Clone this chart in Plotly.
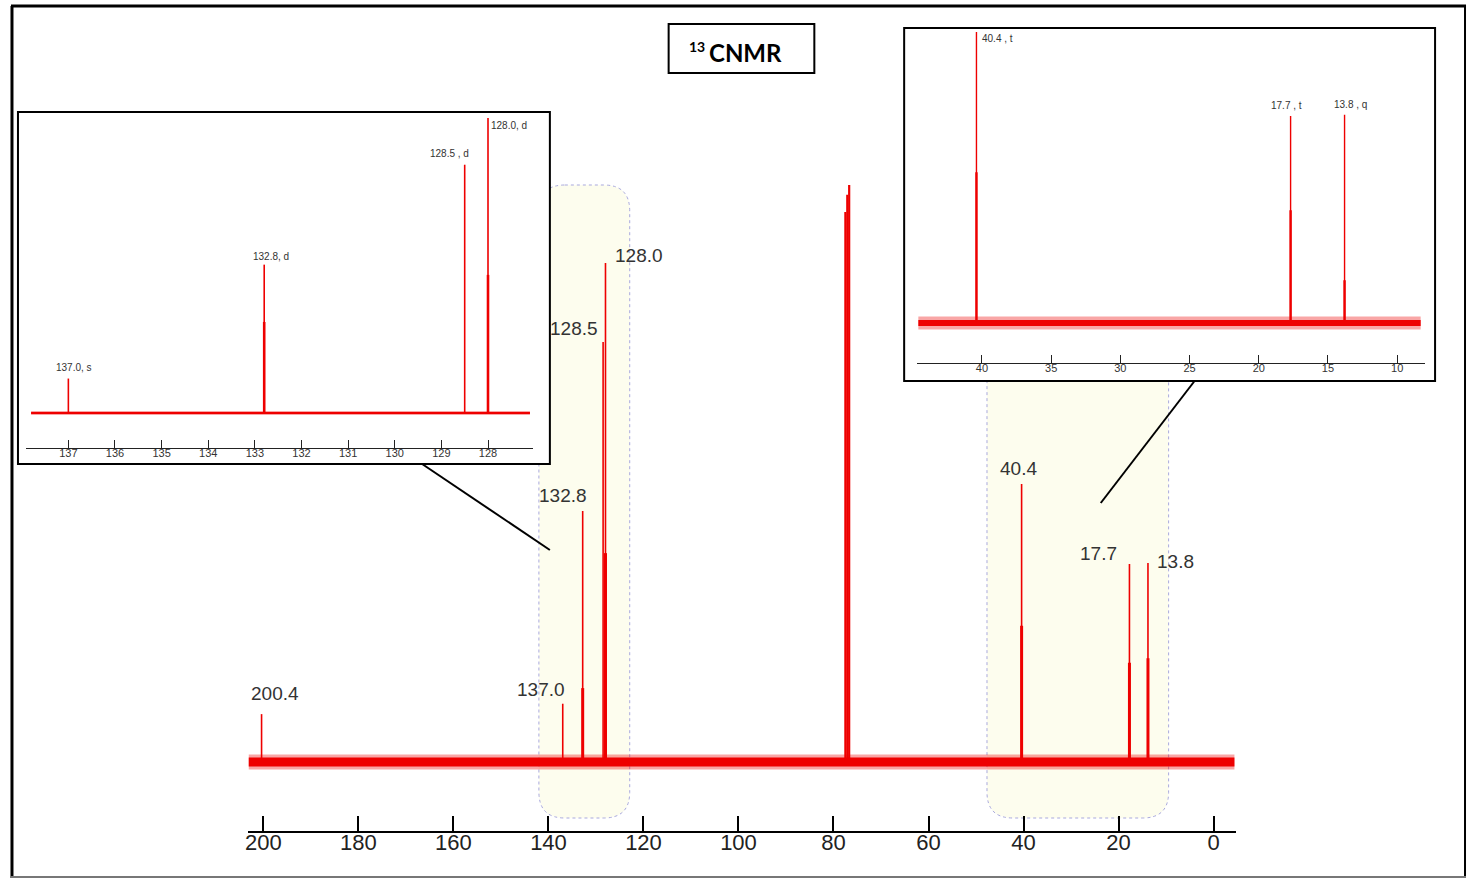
import plotly.graph_objects as go

W, H = 1469, 878

# ---------------- data ----------------
# 13C peaks: chemical shift (ppm) and relative intensity (CDCl3 = 100)
peak_ppm = [200.4, 137.0, 132.8, 128.5, 128.0, 40.4, 17.7, 13.8]
peak_height = [8.3, 10.1, 43.5, 72.8, 86.5, 48.2, 34.3, 34.5]
# intensity reached by the broad lower part of each line
peak_core = [0.0, 0.0, 12.8, 0.0, 36.2, 23.6, 17.2, 18.0]

# CDCl3 solvent triplet
solvent_ppm = [77.5, 77.1, 76.7]
solvent_height = [95.3, 98.3, 100.0]

# spectral window of the full spectrum
spectrum_span = [203.15, -4.4]

# aromatic expansion
arom_ppm = [137.0, 132.8, 128.5, 128.0]
arom_height = [10.1, 43.5, 72.8, 86.5]
arom_core = [0.0, 26.7, 0.0, 40.5]
arom_mult = ["s", "d", "d", "d"]
arom_sep = [", ", ", ", " , ", ", "]
arom_span = [137.8, 127.1]
arom_ticks = [137, 136, 135, 134, 133, 132, 131, 130, 129, 128]

# aliphatic expansion
aliph_ppm = [40.4, 17.7, 13.8]
aliph_height = [48.2, 34.3, 34.5]
aliph_core = [25.0, 18.7, 7.1]
aliph_mult = ["t", "t", "q"]
aliph_sep = [" , ", " , ", " , "]
aliph_span = [44.6, 8.3]
aliph_ticks = [40, 35, 30, 25, 20, 15, 10]

main_ticks = [200, 180, 160, 140, 120, 100, 80, 60, 40, 20, 0]

# ---------------- layout helpers ----------------
RED = "#ee0000"
FUZZ = "rgba(238,0,0,0.35)"


def px(x):
    return x / W


def py(y):
    return 1 - y / H


def lin_range(lo_px, hi_px, pa, va, pb, vb):
    s = (vb - va) / (pb - pa)
    return [va + (lo_px - pa) * s, va + (hi_px - pa) * s]


def sticks(xs, tops):
    xx, yy = [], []
    for p, t in zip(xs, tops):
        if t <= 0:
            continue
        xx += [p, p, None]
        yy += [0, t, None]
    return xx, yy


def rounded_rect(x0, y0, x1, y1, r):
    rx, ry = r / W, r / H
    X0, X1, Y0, Y1 = px(x0), px(x1), py(y0), py(y1)
    return (f"M {X0 + rx},{Y0} L {X1 - rx},{Y0} Q {X1},{Y0} {X1},{Y0 - ry} "
            f"L {X1},{Y1 + ry} Q {X1},{Y1} {X1 - rx},{Y1} "
            f"L {X0 + rx},{Y1} Q {X0},{Y1} {X0},{Y1 + ry} "
            f"L {X0},{Y0 - ry} Q {X0},{Y0} {X0 + rx},{Y0} Z")


def line_trace(x, y, width, axes, color=RED):
    return go.Scatter(x=x, y=y, mode="lines", line=dict(color=color, width=width),
                      xaxis=axes[0], yaxis=axes[1], hoverinfo="skip")


fig = go.Figure()

# ---------------- full spectrum ----------------
main_axes = ("x", "y")
fig.add_trace(line_trace(spectrum_span, [0, 0], 15, main_axes, FUZZ))
fig.add_trace(line_trace(spectrum_span, [0, 0], 9, main_axes))
sx, sy = sticks(peak_ppm, peak_height)
fig.add_trace(line_trace(sx, sy, 1.6, main_axes))
cx, cy = sticks(peak_ppm, peak_core)
fig.add_trace(line_trace(cx, cy, 3, main_axes))
vx, vy = sticks(solvent_ppm, solvent_height)
fig.add_trace(line_trace(vx, vy, 2.2, main_axes))

# ---------------- aromatic expansion ----------------
arom_axes = ("x2", "y2")
fig.add_trace(line_trace(arom_span, [0, 0], 4, arom_axes, FUZZ))
fig.add_trace(line_trace(arom_span, [0, 0], 1.8, arom_axes))
ax_, ay_ = sticks(arom_ppm, arom_height)
fig.add_trace(line_trace(ax_, ay_, 1.6, arom_axes))
acx, acy = sticks(arom_ppm, arom_core)
fig.add_trace(line_trace(acx, acy, 2.6, arom_axes))

# ---------------- aliphatic expansion ----------------
aliph_axes = ("x3", "y3")
fig.add_trace(line_trace(aliph_span, [0, 0], 13, aliph_axes, FUZZ))
fig.add_trace(line_trace(aliph_span, [0, 0], 6, aliph_axes))
lx, ly = sticks(aliph_ppm, aliph_height)
fig.add_trace(line_trace(lx, ly, 1.4, aliph_axes))
lcx, lcy = sticks(aliph_ppm, aliph_core)
fig.add_trace(line_trace(lcx, lcy, 2.4, aliph_axes))

# ---------------- axes ----------------
tickfont_main = dict(family="Liberation Sans, Arial, sans-serif", size=22, color="#222")
tickfont_small = dict(family="Liberation Sans, Arial, sans-serif", size=11, color="#333")

main_x = dict(domain=[px(246), px(1236)],
              range=lin_range(246, 1236, 261, 200, 1213, 0),
              tickvals=main_ticks, ticks="inside", ticklen=15, tickwidth=1.5,
              tickcolor="black", showline=True, linecolor="black", linewidth=2,
              showgrid=False, zeroline=False, tickfont=tickfont_main, anchor="y",
              ticklabelstandoff=-9, fixedrange=True)
main_y = dict(domain=[py(831), py(100)],
              range=lin_range(831, 100, 762, 0, 185, 100),
              visible=False, anchor="x", fixedrange=True)

ins1_x = dict(domain=[px(23), px(531)],
              range=lin_range(23, 531, 65.5, 137, 486, 128),
              tickvals=arom_ticks, ticks="inside", ticklen=8, tickwidth=1,
              tickcolor="#222", showline=True, linecolor="#222", linewidth=1.3,
              showgrid=False, zeroline=False, tickfont=tickfont_small, anchor="y2",
              ticklabelstandoff=-5, fixedrange=True)
ins1_y = dict(domain=[py(448), py(114)],
              range=lin_range(448, 114, 413, 0, 118, 86.5),
              visible=False, anchor="x2", fixedrange=True)

ins2_x = dict(domain=[px(916), px(1425)],
              range=lin_range(916, 1425, 981, 40, 1397, 10),
              tickvals=aliph_ticks, ticks="inside", ticklen=8, tickwidth=1,
              tickcolor="#222", showline=True, linecolor="#222", linewidth=1.3,
              showgrid=False, zeroline=False, tickfont=tickfont_small, anchor="y3",
              ticklabelstandoff=-5, fixedrange=True)
ins2_y = dict(domain=[py(363), py(30)],
              range=lin_range(363, 30, 323, 0, 116, 34.3),
              visible=False, anchor="x3", fixedrange=True)

# ---------------- annotations ----------------
annotations = []
label_font = dict(family="Liberation Sans, Arial, sans-serif", size=19, color="#333")
main_offsets = [(13, 21), (-22, 14), (-20, 16), (-29, 13), (34, 7), (-3, 15), (-31, 11), (28, 1)]
for p, h, (dx, dy) in zip(peak_ppm, peak_height, main_offsets):
    annotations.append(dict(x=p, y=h, xref="x", yref="y", text=f"{p:.1f}",
                            showarrow=False, xshift=dx, yshift=dy, font=label_font))

small_font = dict(family="Liberation Sans, Arial, sans-serif", size=10, color="#333")
arom_offsets = [(6, 11), (7, 8), (-15, 11), (21, -8)]
for p, h, sep, m, (dx, dy) in zip(arom_ppm, arom_height, arom_sep, arom_mult, arom_offsets):
    annotations.append(dict(x=p, y=h, xref="x2", yref="y2", text=f"{p:.1f}{sep}{m}",
                            showarrow=False, xshift=dx, yshift=dy, font=small_font))
aliph_offsets = [(21, -6), (-4, 10), (6, 10)]
for p, h, sep, m, (dx, dy) in zip(aliph_ppm, aliph_height, aliph_sep, aliph_mult, aliph_offsets):
    annotations.append(dict(x=p, y=h, xref="x3", yref="y3", text=f"{p:.1f}{sep}{m}",
                            showarrow=False, xshift=dx, yshift=dy, font=small_font))

# boxed title: superscript mass number and element / technique
title_font = "Lato, Liberation Sans, sans-serif"
annotations.append(dict(x=px(705), y=py(36), xref="paper", yref="paper",
                        xanchor="right", text="<b>13</b>", showarrow=False,
                        font=dict(family=title_font, size=14, color="black")))
annotations.append(dict(x=px(705), y=py(36), xref="paper", yref="paper",
                        xanchor="left", text="<b>CNMR</b>", showarrow=False,
                        font=dict(family=title_font, size=24, color="black")))

# ---------------- shapes ----------------
shapes = []
hl = dict(type="path", xref="paper", yref="paper", layer="below",
          fillcolor="#fdfdee", line=dict(color="#a9a9dd", width=1, dash="dot"))
shapes.append(dict(hl, path=rounded_rect(537, 185, 628, 818, 26)))
shapes.append(dict(hl, path=rounded_rect(986, 300, 1168, 818, 26)))

box = dict(type="rect", xref="paper", yref="paper", layer="below",
           fillcolor="white", line=dict(color="black", width=2))
shapes.append(dict(box, x0=px(15), x1=px(548), y0=py(464), y1=py(112)))
shapes.append(dict(box, x0=px(903), x1=px(1435), y0=py(381), y1=py(28)))
shapes.append(dict(box, x0=px(667), x1=px(813), y0=py(73), y1=py(24)))

conn = dict(type="line", xref="paper", yref="paper", layer="below",
            line=dict(color="black", width=2))
shapes.append(dict(conn, x0=px(420), y0=py(464), x1=px(548), y1=py(550)))
shapes.append(dict(conn, x0=px(1194), y0=py(381), x1=px(1100), y1=py(503)))

# outer frame
shapes.append(dict(conn, x0=px(8), y0=py(6), x1=px(1466), y1=py(6), line=dict(color="black", width=3)))
shapes.append(dict(conn, x0=px(9), y0=py(6), x1=px(9), y1=py(878), line=dict(color="black", width=3)))
shapes.append(dict(conn, x0=px(1465), y0=py(6), x1=px(1465), y1=py(878), line=dict(color="black", width=2)))
shapes.append(dict(conn, x0=px(8), y0=py(877), x1=px(1466), y1=py(877), line=dict(color="#777", width=2)))

fig.update_layout(
    width=W, height=H, margin=dict(l=0, r=0, t=0, b=0),
    paper_bgcolor="white", plot_bgcolor="rgba(0,0,0,0)",
    showlegend=False,
    xaxis=main_x, yaxis=main_y,
    xaxis2=ins1_x, yaxis2=ins1_y,
    xaxis3=ins2_x, yaxis3=ins2_y,
    annotations=annotations, shapes=shapes,
)

fig.write_html("out.html", config={"displayModeBar": False})
